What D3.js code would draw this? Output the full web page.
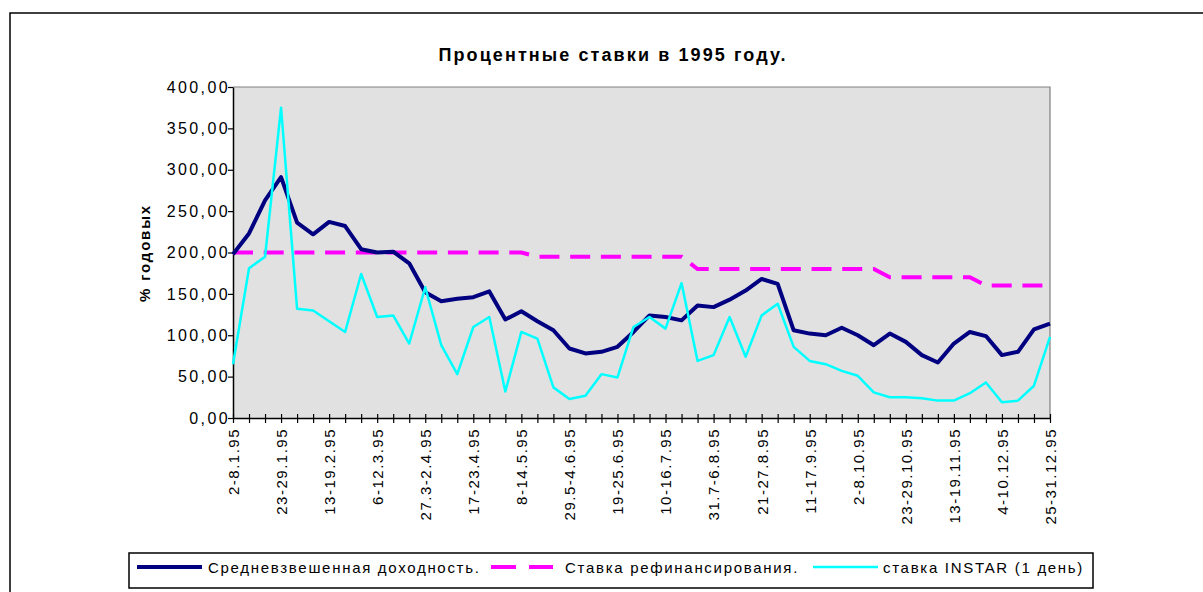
<!DOCTYPE html>
<html>
<head>
<meta charset="utf-8">
<script src="https://cdn.jsdelivr.net/npm/d3@7"></script>
<style>
  body { margin: 0; background: #fff; }
  svg { display: block; font-family: "Liberation Sans", Arial, sans-serif; }
</style>
</head>
<body>
<div id="chart"></div>
<script>
// weeks of 1995
var weeks = ["2-8.1.95", "9-15.1.95", "16-22.1.95", "23-29.1.95", "30.1-5.2.95", "6-12.2.95",
  "13-19.2.95", "20-26.2.95", "27.2-5.3.95", "6-12.3.95", "13-19.3.95", "20-26.3.95",
  "27.3-2.4.95", "3-9.4.95", "10-16.4.95", "17-23.4.95", "24-30.4.95", "1-7.5.95",
  "8-14.5.95", "15-21.5.95", "22-28.5.95", "29.5-4.6.95", "5-11.6.95", "12-18.6.95",
  "19-25.6.95", "26.6-2.7.95", "3-9.7.95", "10-16.7.95", "17-23.7.95", "24-30.7.95",
  "31.7-6.8.95", "7-13.8.95", "14-20.8.95", "21-27.8.95", "28.8-3.9.95", "4-10.9.95",
  "11-17.9.95", "18-24.9.95", "25.9-1.10.95", "2-8.10.95", "9-15.10.95", "16-22.10.95",
  "23-29.10.95", "30.10-5.11.95", "6-12.11.95", "13-19.11.95", "20-26.11.95", "27.11-3.12.95",
  "4-10.12.95", "11-17.12.95", "18-24.12.95", "25-31.12.95"];

// Средневзвешенная доходность
var avgYield = [198, 223, 263, 291, 236, 222, 237, 232, 204, 200, 201, 187,
  152, 141, 144, 146, 153, 119, 129, 117, 106, 84, 78, 80,
  86, 104, 124, 122, 118, 136, 134, 143, 154, 168, 162, 106,
  102, 100, 109, 100, 88, 102, 92, 76, 67, 90, 104, 99,
  76, 80, 107, 114];

// Ставка рефинансирования
var refiRate = [200, 200, 200, 200, 200, 200, 200, 200, 200, 200, 200, 200,
  200, 200, 200, 200, 200, 200, 200, 195, 195, 195, 195, 195,
  195, 195, 195, 195, 195, 180, 180, 180, 180, 180, 180, 180,
  180, 180, 180, 180, 180, 170, 170, 170, 170, 170, 170, 160,
  160, 160, 160, 160];

// ставка INSTAR (1 день)
var instar = [65, 181, 195, 375, 132, 130, 117, 104, 174, 122, 124, 90,
  158, 88, 53, 110, 122, 32, 104, 96, 37, 23, 27, 53,
  49, 110, 122, 108, 163, 69, 76, 122, 74, 124, 138, 86,
  69, 65, 57, 51, 31, 25, 25, 24, 21, 21, 30, 43,
  19, 21, 39, 98];

var yTicks = [0, 50, 100, 150, 200, 250, 300, 350, 400];

var seriesNames = ["Средневзвешенная доходность.", "Ставка рефинансирования.", "ставка INSTAR (1 день)"];

var width = 1203, height = 592;
var plotL = 233, plotR = 1050, plotT = 87, plotB = 418;

var svg = d3.select("#chart").append("svg")
  .attr("width", width)
  .attr("height", height);

// outer chart border
svg.append("rect")
  .attr("x", 10).attr("y", 13)
  .attr("width", 1300).attr("height", 700)
  .attr("fill", "#fff")
  .attr("stroke", "#000")
  .attr("stroke-width", 1.5);

var x = d3.scalePoint()
  .domain(weeks)
  .range([plotL, plotR]);

var y = d3.scaleLinear()
  .domain([0, 400])
  .range([plotB, plotT]);

// plot area
svg.append("rect")
  .attr("x", plotL).attr("y", plotT)
  .attr("width", plotR - plotL).attr("height", plotB - plotT)
  .attr("fill", "#e1e1e1");
svg.append("path")
  .attr("d", "M" + plotL + "," + plotT + "H" + plotR + "V" + plotB)
  .attr("fill", "none")
  .attr("stroke", "#808080")
  .attr("stroke-width", 1.2);

// title
svg.append("text")
  .attr("x", 613).attr("y", 61)
  .attr("text-anchor", "middle")
  .style("font-size", "18px")
  .style("font-weight", "bold")
  .style("letter-spacing", "2.1px")
  .text("Процентные ставки в 1995 году.");

// y axis
var yAxis = d3.axisLeft(y)
  .tickValues(yTicks)
  .tickSize(5)
  .tickSizeOuter(0)
  .tickPadding(0)
  .tickFormat(function(d) { return d3.format(".2f")(d).replace(".", ","); });

var gy = svg.append("g")
  .attr("transform", "translate(" + plotL + ",0)")
  .call(yAxis);
gy.select(".domain").attr("stroke", "#000").attr("stroke-width", 1.5);
gy.selectAll(".tick line").attr("stroke", "#000").attr("stroke-width", 1.2);
gy.selectAll(".tick text")
  .attr("x", -3)
  .attr("fill", "#000")
  .style("font-size", "16px")
  .style("letter-spacing", "2.4px")
  .style("font-family", "'Liberation Sans', Arial, sans-serif");

svg.append("text")
  .attr("transform", "translate(150,253) rotate(-90)")
  .attr("text-anchor", "middle")
  .style("font-size", "15px")
  .style("font-weight", "bold")
  .style("letter-spacing", "1.8px")
  .text("% годовых");

// x axis
var xAxis = d3.axisBottom(x)
  .tickSize(5)
  .tickSizeOuter(0)
  .tickFormat(function(d, i) { return i % 3 === 0 ? d : ""; });

var gx = svg.append("g")
  .attr("transform", "translate(0," + plotB + ")")
  .call(xAxis);
gx.select(".domain").attr("stroke", "#000").attr("stroke-width", 1.5);
gx.selectAll(".tick line")
  .attr("y1", -4).attr("y2", 5)
  .attr("stroke", "#000").attr("stroke-width", 1.2);
gx.selectAll(".tick text")
  .attr("transform", "rotate(-90)")
  .attr("x", -10).attr("y", 0)
  .attr("dy", "0.36em")
  .attr("text-anchor", "end")
  .attr("fill", "#000")
  .style("font-size", "15px")
  .style("letter-spacing", "1.5px")
  .style("font-family", "'Liberation Sans', Arial, sans-serif");

// series
var line = d3.line()
  .x(function(d, i) { return x(weeks[i]); })
  .y(function(d) { return y(d); });

svg.append("path")
  .datum(refiRate)
  .attr("d", line)
  .attr("fill", "none")
  .attr("stroke", "#ff00ff")
  .attr("stroke-width", 4)
  .attr("stroke-dasharray", "20,10.7");

svg.append("path")
  .datum(avgYield)
  .attr("d", line)
  .attr("fill", "none")
  .attr("stroke", "#000080")
  .attr("stroke-width", 4)
  .attr("stroke-linejoin", "round");

svg.append("path")
  .datum(instar)
  .attr("d", line)
  .attr("fill", "none")
  .attr("stroke", "#00ffff")
  .attr("stroke-width", 2.5)
  .attr("stroke-linejoin", "round");

// legend
svg.append("rect")
  .attr("x", 129).attr("y", 553)
  .attr("width", 964).attr("height", 35)
  .attr("fill", "#fff")
  .attr("stroke", "#000")
  .attr("stroke-width", 1.5);

var legendItems = [
  { x1: 137, x2: 202, tx: 208, color: "#000080", w: 4, dash: null },
  { x1: 491, x2: 553, tx: 565, color: "#ff00ff", w: 4, dash: "25,13" },
  { x1: 813, x2: 878, tx: 883, color: "#00ffff", w: 2.5, dash: null }
];
legendItems.forEach(function(it, i) {
  svg.append("line")
    .attr("x1", it.x1).attr("x2", it.x2)
    .attr("y1", 567).attr("y2", 567)
    .attr("stroke", it.color)
    .attr("stroke-width", it.w)
    .attr("stroke-dasharray", it.dash);
  svg.append("text")
    .attr("x", it.tx).attr("y", 573)
    .style("font-size", "15px")
    .style("letter-spacing", "1.7px")
    .text(seriesNames[i]);
});
</script>
</body>
</html>
